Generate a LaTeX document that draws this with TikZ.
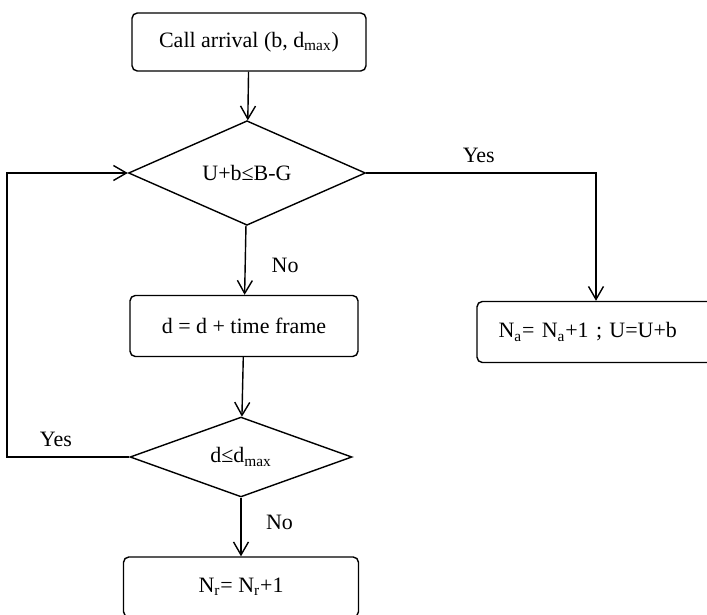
\documentclass[tikz,border=0pt]{standalone}
\usepackage{fontspec}
\setmainfont{Liberation Serif}
\usetikzlibrary{arrows.meta,positioning,shapes.geometric}
\tikzset{
  process/.style={draw,rectangle,rounded corners=3pt,inner sep=0pt},
  decision/.style={draw,diamond,inner sep=0pt},
  flow/.style={->,line width=0.8pt},
  chart/.style={
    x=0.02cm,y=-0.02cm,line width=0.8pt,
    >={Straight Barb[length=2.6mm,width=3mm]},
    font=\fontsize{12.5}{15}\selectfont
  }
}
\begin{document}
\begin{tikzpicture}[chart]
  \useasboundingbox (0,0) rectangle (707,615);

  \node[process,minimum width=4.68cm,minimum height=1.16cm] (b1) at (249,42) {Call arrival (b, d\textsubscript{max})};
  \node[decision,minimum width=4.74cm,minimum height=1.72cm] (d1) at (247,173) {U+b≤B-G};
  \node[process,minimum width=4.56cm,minimum height=1.22cm] (b2) at (244,326) {d = d + time frame};
  \node[decision,minimum width=4.44cm,minimum height=1.58cm] (d2) at (241,457) {d≤d\textsubscript{max}};
  \node[process,minimum width=4.7cm,minimum height=1.2cm] (b4) at (241,587) {N\textsubscript{r}= N\textsubscript{r}+1};
  \node[process,inner xsep=0.43cm,text width=3.9cm,align=left,minimum height=1.22cm] (b3) at (596,332) {N\textsubscript{a}= N\textsubscript{a}+1 ; U=U+b};
  \coordinate (back) at (7,457);

  \draw[flow] (b1) -- (d1);
  \draw[flow] (d1.east) -| node[pos=0.245,above=2pt] {Yes} (b3.north);
  \draw[flow] (d1) -- node[pos=0.58,right=0.4cm] {No} (b2);
  \draw[flow] (b2) -- (d2);
  \draw[flow] (d2) -- node[pos=0.42,right=0.37cm] {No} (b4);
  \draw[flow] (d2.west) -- node[pos=0.6,above=2pt] {Yes} (back) |- (d1.west);
\end{tikzpicture}
\end{document}
